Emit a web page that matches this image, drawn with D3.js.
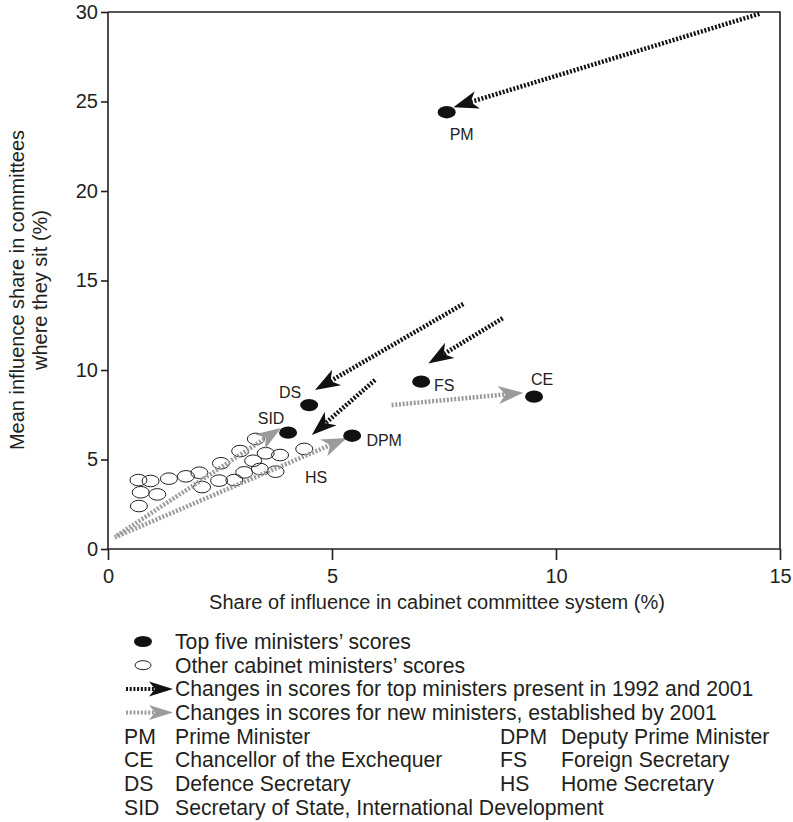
<!DOCTYPE html>
<html><head><meta charset="utf-8">
<script src="https://cdn.jsdelivr.net/npm/d3@7"></script>
<style>
body{margin:0;background:#fff;}
svg{display:block;font-family:"Liberation Sans",Arial,Helvetica,sans-serif;}
</style></head><body>
<svg id="chart" width="793" height="822"></svg>
<script>
// ---------- data ----------
const xTicks = [0, 5, 10, 15];
const yTicks = [0, 5, 10, 15, 20, 25, 30];

const topCodes = ["PM", "CE", "FS", "DS", "SID", "DPM"];
const topX = [7.56, 9.51, 6.99, 4.49, 4.02, 5.45];
const topY = [24.4, 8.51, 9.35, 8.04, 6.5, 6.33];

const otherX = [0.68, 0.95, 0.73, 1.10, 0.69, 1.36, 1.74, 2.04, 2.10, 2.48, 2.52, 2.82, 3.04, 2.95, 3.24, 3.30, 3.39, 3.52, 3.74, 3.84, 4.38];
const otherY = [3.85, 3.80, 3.17, 3.05, 2.40, 3.93, 4.06, 4.26, 3.46, 3.82, 4.79, 3.85, 4.28, 5.47, 4.93, 6.15, 4.47, 5.35, 4.32, 5.25, 5.59];

// changes for top ministers present in 1992 and 2001 (black)
const blackFromX = [14.54, 7.93, 8.81, 5.96];
const blackFromY = [29.9, 13.69, 12.89, 9.44];
const blackToX = [7.71, 4.62, 7.15, 4.55];
const blackToY = [24.68, 8.88, 10.37, 6.37];

// changes for new ministers (grey)
const greyFromX = [6.33, 0.20, 0.15];
const greyFromY = [8.04, 0.75, 0.65];
const greyToX = [9.27, 3.86, 5.33];
const greyToY = [8.73, 6.76, 6.20];

const pointLabels = ["PM", "CE", "FS", "DS", "SID", "DPM", "HS"];

const legendItems = [
  "Top five ministers\u2019 scores",
  "Other cabinet ministers\u2019 scores",
  "Changes in scores for top ministers present in 1992 and 2001",
  "Changes in scores for new ministers, established by 2001"
];
const abbrLeft = ["PM", "CE", "DS", "SID"];
const nameLeft = ["Prime Minister", "Chancellor of the Exchequer", "Defence Secretary", "Secretary of State, International Development"];
const abbrRight = ["DPM", "FS", "HS"];
const nameRight = ["Deputy Prime Minister", "Foreign Secretary", "Home Secretary"];

const xTitle = "Share of influence in cabinet committee system (%)";
const yTitle = ["Mean influence share in committees", "where they sit (%)"];

// ---------- layout ----------
const ink = "#231f20", grey = "#9b9b9b";
const labelPos = { // [anchor x, anchor y (data), dx, dy (px)]
  PM: [7.56, 24.4, 15, 22], CE: [9.51, 8.51, 8, -17], FS: [6.99, 9.35, 23, 4],
  DS: [4.49, 8.04, -19, -13], SID: [4.02, 6.5, -17, -14], DPM: [5.45, 6.33, 32, 5],
  HS: [5.45, 6.33, -36, 42]
};

const svg = d3.select("#chart");
const x = d3.scaleLinear().domain([0, 15]).range([108, 780]);
const y = d3.scaleLinear().domain([0, 30]).range([549, 12]);

// frame (top & right)
svg.append("path")
  .attr("d", `M${x(0)},${y(30)}H${x(15)}V${y(0)}`)
  .attr("fill", "none").attr("stroke", ink).attr("stroke-width", 1.6);

const xAxis = svg.append("g").attr("transform", `translate(0,${y(0)})`)
  .call(d3.axisBottom(x).tickValues(xTicks).tickSize(11).tickSizeOuter(0).tickPadding(9));
const yAxis = svg.append("g").attr("transform", `translate(${x(0)},0)`)
  .call(d3.axisLeft(y).tickValues(yTicks).tickSize(7).tickSizeOuter(0).tickPadding(3));
[xAxis, yAxis].forEach(a => {
  a.selectAll("path,line").attr("stroke", ink).attr("stroke-width", 1.6);
  a.selectAll("text").attr("fill", ink).style("font-size", "20px");
});
yAxis.select(".domain").attr("d", `M0,${y(0)}V${y(30)}`);
xAxis.select(".domain").attr("d", `M${x(0)},0H${x(15)}`);

svg.append("text").attr("x", 437).attr("y", 609)
  .attr("text-anchor", "middle").attr("fill", ink).style("font-size", "20px").text(xTitle);
yTitle.forEach((t, i) => {
  svg.append("text").attr("transform", `translate(${24 + i * 23},290) rotate(-90)`)
    .attr("text-anchor", "middle").attr("fill", ink).style("font-size", "20px").text(t);
});

// open circles
const others = otherX.map((v, i) => ({ x: v, y: otherY[i] }));
svg.append("g").selectAll("ellipse").data(others).join("ellipse")
  .attr("cx", d => x(d.x)).attr("cy", d => y(d.y)).attr("rx", 8.5).attr("ry", 5.8)
  .attr("fill", "none").attr("stroke", ink).attr("stroke-width", 1);

// arrows
function drawArrow(g, x1, y1, x2, y2, color, L, W, N, sw) {
  const dx = x2 - x1, dy = y2 - y1, len = Math.hypot(dx, dy);
  const ux = dx / len, uy = dy / len;
  const bx = x2 - ux * (L - N), by = y2 - uy * (L - N);
  g.append("line").attr("x1", x1).attr("y1", y1).attr("x2", bx).attr("y2", by)
    .attr("stroke", color).attr("stroke-width", sw).attr("stroke-dasharray", "2,1.7");
  const ang = Math.atan2(dy, dx) * 180 / Math.PI;
  g.append("path").attr("transform", `translate(${x2},${y2}) rotate(${ang})`)
    .attr("d", `M0,0L${-L},${-W}L${-(L - N)},0L${-L},${W}Z`).attr("fill", color);
}
const arrowG = svg.append("g");
greyFromX.forEach((v, i) => drawArrow(arrowG, x(v), y(greyFromY[i]), x(greyToX[i]), y(greyToY[i]), grey, 25, 9, 7, 4.5));
blackFromX.forEach((v, i) => drawArrow(arrowG, x(v), y(blackFromY[i]), x(blackToX[i]), y(blackToY[i]), "#111", 25, 9, 7, 4.5));

// top ministers
const tops = topX.map((v, i) => ({ code: topCodes[i], x: v, y: topY[i] }));
svg.append("g").selectAll("ellipse").data(tops).join("ellipse")
  .attr("cx", d => x(d.x)).attr("cy", d => y(d.y)).attr("rx", 9).attr("ry", 6.2).attr("fill", "#111");

svg.append("g").selectAll("text").data(pointLabels).join("text")
  .attr("x", d => x(labelPos[d][0]) + labelPos[d][2])
  .attr("y", d => y(labelPos[d][1]) + labelPos[d][3])
  .attr("dy", "0.35em").attr("text-anchor", "middle").attr("fill", ink)
  .style("font-size", "16px").text(d => d);

// legend
const rowY = i => 641.5 + i * 23.7;
const lg = svg.append("g").style("font-size", "21.2px").attr("fill", ink);
lg.append("ellipse").attr("cx", 143).attr("cy", rowY(0)).attr("rx", 9).attr("ry", 5.5).attr("fill", "#111");
lg.append("ellipse").attr("cx", 143).attr("cy", rowY(1)).attr("rx", 8).attr("ry", 4.5)
  .attr("fill", "none").attr("stroke", ink).attr("stroke-width", 1);
drawArrow(lg, 126, rowY(2), 173, rowY(2), "#111", 24, 7.5, 6, 4);
drawArrow(lg, 126, rowY(3), 173, rowY(3), grey, 24, 7.5, 6, 4);
legendItems.forEach((t, i) => lg.append("text").attr("x", 175).attr("y", rowY(i)).attr("dy", "0.35em").text(t));
abbrLeft.forEach((t, i) => {
  lg.append("text").attr("x", 124).attr("y", rowY(4 + i)).attr("dy", "0.35em").text(t);
  lg.append("text").attr("x", 175).attr("y", rowY(4 + i)).attr("dy", "0.35em").text(nameLeft[i]);
});
abbrRight.forEach((t, i) => {
  lg.append("text").attr("x", 500).attr("y", rowY(4 + i)).attr("dy", "0.35em").text(t);
  lg.append("text").attr("x", 561).attr("y", rowY(4 + i)).attr("dy", "0.35em").text(nameRight[i]);
});
</script>
</body></html>
